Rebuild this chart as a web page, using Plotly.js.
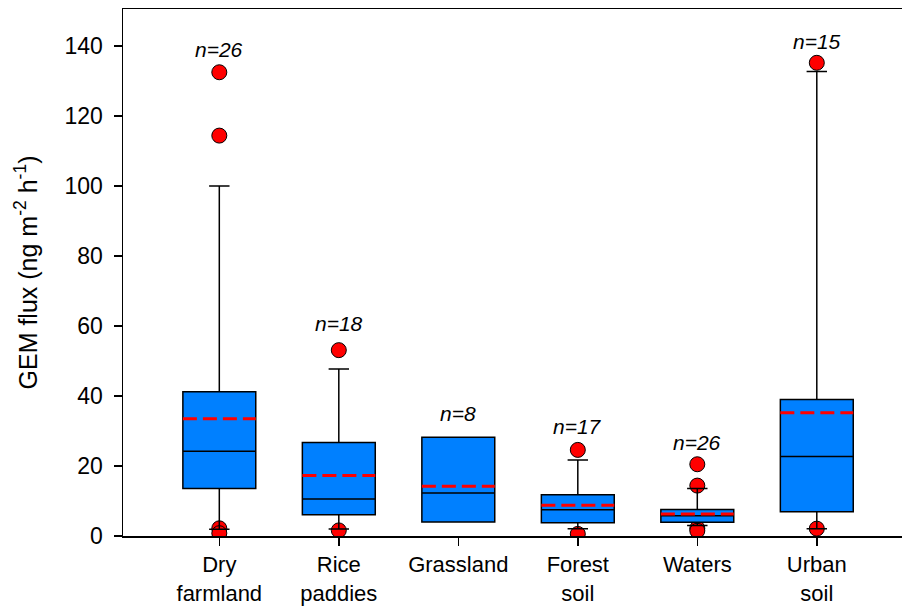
<!DOCTYPE html>
<html>
<head>
<meta charset="utf-8">
<script src="https://cdn.plot.ly/plotly-3.0.1.min.js"></script>
<style>html,body{margin:0;padding:0;background:#fff;}#chart{width:902px;height:606px;}</style>
</head>
<body>
<div id="chart"></div>
<script>
// ---- data ----
const categories = ["Dry<br>farmland", "Rice<br>paddies", "Grassland", "Forest<br>soil", "Waters", "Urban<br>soil"];
const lowerWhisker = [1.9, 2.0, 4.0, 2.1, 3.0, 2.1];
const q1 = [13.6, 6.1, 4.0, 3.8, 3.9, 6.9];
const median = [24.2, 10.6, 12.3, 7.5, 5.8, 22.7];
const q3 = [41.2, 26.7, 28.2, 11.8, 7.6, 39.0];
const upperWhisker = [100, 47.7, 28.2, 21.7, 13.6, 132.7];
const means = [33.5, 17.3, 14.2, 8.8, 6.3, 35.2];
const nCounts = [26, 18, 8, 17, 26, 15];
const nLabelY = [139, 60.8, 35.1, 31.4, 26.6, 141.2];
const outlierCat = [0, 0, 0, 0, 1, 1, 3, 3, 4, 4, 4, 4, 5, 5];
const outlierVal = [132.5, 114.4, 2.2, 0.8, 53.1, 1.6, 24.6, 0.6, 20.5, 14.4, 2.2, 1.5, 135.2, 2.1];
const yTicks = [0, 20, 40, 60, 80, 100, 120, 140];

// ---- styling ----
const boxWidth = 0.61;
const idx = categories.map((c, i) => i);
const traces = [];

// outliers (drawn on the lower subplot so whiskers sit on top of them)
traces.push({
  type: "scatter", mode: "markers", x: outlierCat, y: outlierVal,
  xaxis: "x", yaxis: "y",
  marker: {size: 15, color: "#FF0000", line: {color: "#000", width: 1}},
  showlegend: false, hoverinfo: "y"
});

// boxes
traces.push({
  type: "box", x: idx, xaxis: "x", yaxis: "y2",
  q1: q1, median: median, q3: q3,
  lowerfence: lowerWhisker, upperfence: upperWhisker,
  width: boxWidth, whiskerwidth: 0.28,
  fillcolor: "#0080FF", line: {color: "#000", width: 1.5},
  boxpoints: false, showlegend: false
});

// mean lines (red dashed)
idx.forEach(i => {
  traces.push({
    type: "scatter", mode: "lines", xaxis: "x", yaxis: "y2",
    x: [i - boxWidth / 2, i + boxWidth / 2], y: [means[i], means[i]],
    line: {color: "#FF0000", width: 3, dash: "14px,6px"},
    showlegend: false, hoverinfo: "skip"
  });
});

const annotations = idx.map(i => ({
  x: i, y: nLabelY[i], xref: "x", yref: "y",
  text: "<i>n=" + nCounts[i] + "</i>", showarrow: false,
  font: {family: "Liberation Sans, Arial, sans-serif", size: 21, color: "#000"},
  xanchor: "center", yanchor: "middle"
}));

const yr = [0, 150.57];
const layout = {
  width: 902, height: 606,
  margin: {l: 123, r: 0, t: 9, b: 70, pad: 0},
  paper_bgcolor: "#fff", plot_bgcolor: "#fff",
  font: {family: "Liberation Sans, Arial, sans-serif", size: 22, color: "#000"},
  showlegend: false,
  xaxis: {
    range: [-0.806, 5.713], tickmode: "array", tickvals: idx, ticktext: categories,
    showline: true, linecolor: "#000", linewidth: 1.5, mirror: true,
    ticks: "outside", ticklen: 8, tickwidth: 1.5, tickcolor: "#000",
    showgrid: false, zeroline: false, automargin: false,
    tickfont: {size: 22}
  },
  yaxis: {
    range: yr, tickmode: "array", tickvals: yTicks,
    showline: true, linecolor: "#000", linewidth: 1.5,
    ticks: "outside", ticklen: 8, tickwidth: 1.5, tickcolor: "#000",
    ticklabelstandoff: 6,
    showgrid: false, zeroline: false, automargin: false,
    tickfont: {size: 23},
    title: {text: "GEM flux (ng m<sup>-2</sup> h<sup>-1</sup>)", font: {size: 25}, standoff: 20}
  },
  yaxis2: {
    range: yr, overlaying: "y", matches: "y", visible: false,
    showgrid: false, zeroline: false
  },
  annotations: annotations
};

Plotly.newPlot("chart", traces, layout, {staticPlot: true});
</script>
</body>
</html>
